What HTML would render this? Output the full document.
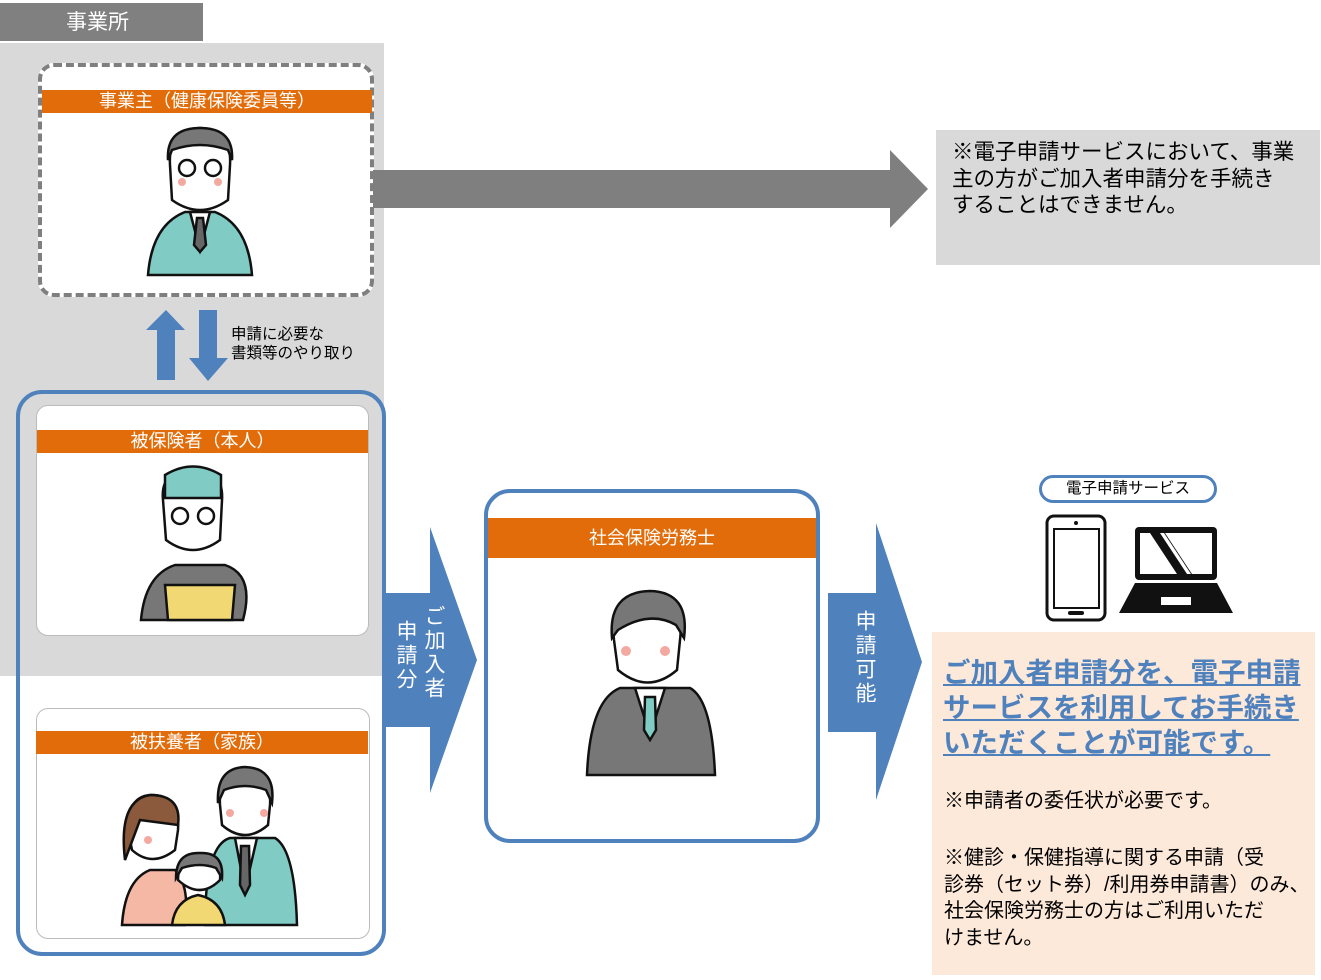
<!DOCTYPE html>
<html><head><meta charset="utf-8"><style>
body{margin:0;width:1321px;height:980px;position:relative;background:#fff;font-family:"Liberation Sans","Noto Sans CJK JP",sans-serif;overflow:hidden}
div,span{position:absolute;box-sizing:border-box}
.or{background:#e36c0a;color:#fff;text-align:center;font-size:18px;line-height:23px}
.vt{writing-mode:vertical-rl;color:#fff;font-size:21px;letter-spacing:3px;line-height:26px}
</style></head><body>
<div style="left:0;top:3px;width:203px;height:38px;background:#808080;color:#fff;font-size:21px;line-height:40px;padding-left:66px">事業所</div>
<div style="left:0;top:43px;width:384px;height:633px;background:#d9d9d9"></div>
<div style="left:38px;top:63px;width:336px;height:234px;background:#fff;border:4px dashed #7f7f7f;border-radius:16px"></div>
<div class="or" style="left:42px;top:90px;width:330px;height:23px">事業主（健康保険委員等）</div>
<div style="left:936px;top:130px;width:384px;height:135px;background:#d9d9d9;font-size:21.5px;line-height:26.5px;padding:9px 0 0 16px;color:#000;white-space:nowrap">※電子申請サービスにおいて、事業<br>主の方がご加入者申請分を手続き<br>することはできません。</div>
<div style="left:231px;top:325px;font-size:15.5px;line-height:19px;color:#000;white-space:nowrap">申請に必要な<br>書類等のやり取り</div>
<div style="left:16px;top:390px;width:370px;height:566px;border:4px solid #4f81bd;border-radius:26px"></div>
<div style="left:36px;top:405px;width:333px;height:231px;background:#fff;border:1px solid #bbb;border-radius:12px"></div>
<div class="or" style="left:37px;top:430px;width:331px;height:23px">被保険者（本人）</div>
<div style="left:36px;top:708px;width:334px;height:231px;background:#fff;border:1px solid #bbb;border-radius:12px"></div>
<div class="or" style="left:36px;top:731px;width:332px;height:23px">被扶養者（家族）</div>
<div style="left:484px;top:489px;width:336px;height:354px;background:#fff;border:4px solid #4f81bd;border-radius:26px"></div>
<div class="or" style="left:488px;top:518px;width:328px;height:40px;line-height:40px">社会保険労務士</div>
<div style="left:1039px;top:475px;width:178px;height:28px;border:3px solid #4f81bd;border-radius:14px;font-size:15.5px;line-height:22px;text-align:center;color:#000">電子申請サービス</div>
<div style="left:932px;top:632px;width:383px;height:343px;background:#fde9d9"></div>
<div style="left:943px;top:655px;font-size:27.5px;line-height:35px;font-weight:bold;color:#4f81bd;text-decoration:underline;white-space:nowrap">ご加入者申請分を、電子申請<br>サービスを利用してお手続き<br>いただくことが可能です。</div>
<div style="left:944px;top:788px;font-size:20px;line-height:26.5px;color:#000;white-space:nowrap">※申請者の委任状が必要です。</div>
<div style="left:944px;top:845px;font-size:20px;line-height:26.5px;color:#000;white-space:nowrap">※健診・保健指導に関する申請（受<br>診券（セット券）/利用券申請書）のみ、<br>社会保険労務士の方はご利用いただ<br>けません。</div>
<svg style="position:absolute;left:0;top:0" width="1321" height="980">
<polygon points="373,170 890,170 890,150 928,189 890,228 890,208 373,208" fill="#7f7f7f"/>
<polygon points="157,380 157,330 146,330 166,310 185,330 175,330 175,380" fill="#4f81bd"/>
<polygon points="199,310 217,310 217,358 228,358 208,381 189,358 199,358" fill="#4f81bd"/>
<polygon points="385,593 430,593 430,527 477,660 430,793 430,727 385,727" fill="#4f81bd"/>
<polygon points="828,593 876,593 876,523 922,662 876,800 876,732 828,732" fill="#4f81bd"/>
<rect x="1047" y="516" width="58" height="104" rx="7" fill="#fff" stroke="#111" stroke-width="3"/>
<rect x="1054" y="529" width="45" height="79" fill="#fff" stroke="#111" stroke-width="2"/>
<circle cx="1076" cy="523" r="2" fill="#111"/><rect x="1068" y="611" width="16" height="4" rx="2" fill="#111"/>
<rect x="1135" y="527" width="82" height="53" rx="4" fill="#111"/>
<rect x="1140" y="533" width="72" height="41" fill="#fff"/>
<polygon points="1150,533 1165,533 1192,574 1177,574" fill="#111"/>
<polygon points="1160,533 1164,533 1191,574 1187,574" fill="#fff"/>
<polygon points="1135,583 1217,583 1233,613 1119,613" fill="#111"/>
<rect x="1161" y="597" width="30" height="8" fill="#fff"/>
<g stroke="#111" stroke-width="2.5">
<path d="M148,275 Q152,225 185,212 L215,212 Q248,225 252,275 Z" fill="#80cbc4"/>
<path d="M190,212 L200,250 L210,212 Z" fill="#fff"/><path d="M197,218 L203,218 L206,245 L200,252 L194,245 Z" fill="#666"/>
<path d="M170,165 Q168,128 200,128 Q232,128 230,165 L228,200 Q200,220 172,200 Z" fill="#fff"/>
<path d="M168,160 Q166,128 200,128 Q234,128 232,160 L228,150 Q200,140 172,150 Z" fill="#777"/>
<circle cx="187" cy="168" r="8" fill="none"/><circle cx="213" cy="168" r="8" fill="none"/>
<path d="M141,620 Q145,575 175,565 L225,565 Q255,575 243,620 Z" fill="#777"/>
<path d="M165,585 L235,585 L232,620 L168,620 Z" fill="#f2d872"/>
<path d="M163,500 Q160,470 193,468 Q224,470 222,500 L220,540 Q193,560 166,540 Z" fill="#fff"/>
<path d="M165,498 L165,475 Q193,458 221,475 L221,498 Z" fill="#80cbc4"/>
<circle cx="180" cy="516" r="8" fill="none"/><circle cx="206" cy="516" r="8" fill="none"/>
<path d="M587,775 Q590,700 620,688 L690,688 Q712,700 715,775 Z" fill="#777"/>
<path d="M635,688 L650,735 L665,688 Z" fill="#fff"/><path d="M645,697 L655,697 L656,730 L650,740 L644,730 Z" fill="#80cbc4"/>
<path d="M614,640 Q610,600 648,596 Q685,600 680,640 L677,670 Q648,695 618,670 Z" fill="#fff"/>
<path d="M612,638 Q608,592 650,591 Q690,592 684,638 L676,625 Q650,610 618,630 Z" fill="#777"/>
<path d="M122,925 Q125,880 150,870 L175,870 Q190,885 185,925 Z" fill="#f4b8a4"/>
<path d="M128,830 Q128,795 152,795 Q180,795 178,830 L175,850 Q152,868 132,850 Z" fill="#fff"/>
<path d="M125,860 Q118,800 150,795 Q182,795 178,825 L140,820 Z" fill="#8b5a3c"/>
<path d="M205,925 Q205,845 230,838 L275,838 Q295,850 297,925 Z" fill="#80cbc4"/>
<path d="M235,838 L245,890 L257,838 Z" fill="#fff"/><path d="M241,846 L249,846 L250,885 L245,895 L240,885 Z" fill="#666"/>
<path d="M220,805 Q218,772 245,770 Q272,772 270,805 L268,825 Q245,845 222,825 Z" fill="#fff"/>
<path d="M218,803 Q216,768 245,767 Q276,768 272,803 L266,790 Q245,782 224,790 Z" fill="#777"/>
<path d="M172,925 Q175,900 198,895 Q222,900 225,925 Z" fill="#f2d872"/>
<path d="M178,880 Q178,856 200,856 Q222,856 220,880 Q200,900 178,880 Z" fill="#fff"/>
<path d="M176,878 Q176,852 200,853 Q224,852 222,878 L216,868 Q200,862 182,868 Z" fill="#777"/>
</g>
<g fill="#f4a9a0"><circle cx="182" cy="182" r="4"/><circle cx="218" cy="182" r="4"/><circle cx="626" cy="651" r="5"/><circle cx="665" cy="651" r="5"/><circle cx="148" cy="840" r="4"/><circle cx="230" cy="813" r="4"/><circle cx="264" cy="813" r="4"/></g>
</svg>
<div class="vt" style="left:420px;top:605px">ご加入者</div>
<div class="vt" style="left:392px;top:620px">申請分</div>
<div class="vt" style="left:851px;top:610px">申請可能</div>
</body></html>
